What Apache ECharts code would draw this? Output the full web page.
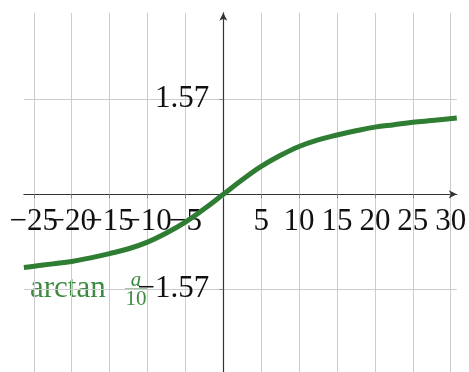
<!DOCTYPE html>
<html>
<head>
<meta charset="utf-8">
<script src="https://cdn.jsdelivr.net/npm/echarts@6/dist/echarts.min.js"></script>
<style>
  html, body { margin: 0; padding: 0; background: #fff; }
  #chart { width: 469px; height: 372px; }
</style>
</head>
<body>
<div id="chart"></div>
<script>
// ============ 数据 ============
const xTicks = [-25, -20, -15, -10, -5, 0, 5, 10, 15, 20, 25, 30]
// 标签分两组放在两条重叠的轴上, 避免相邻标签被自动隐藏
const xLabelsA = [-25, -15, -5, 5, 15, 25]
const xLabelsB = [-20, -10, 10, 20, 30]
const yTicks = [-1.57, 1.57]
const curveX = [-26.3, -25, -22.5, -20, -17.5, -15, -12.5, -10, -7.5, -5, -2.5, 0,
  2.5, 5, 7.5, 10, 12.5, 15, 17.5, 20, 22.5, 25, 27.5, 30.8]
const curveY = [-1.21, -1.19, -1.15, -1.11, -1.05, -0.98, -0.90, -0.79, -0.64, -0.46, -0.24, 0,
  0.24, 0.46, 0.64, 0.79, 0.90, 0.98, 1.05, 1.11, 1.15, 1.19, 1.22, 1.26]

// ============ 样式常量 ============
const COLORS = {
  curve: '#2e7d32',
  label: '#3d8b40',
  axis: '#333333',
  grid: '#cccccc',
  text: '#111111'
}
const FONT = '"Liberation Serif", "DejaVu Serif", serif'

// 坐标区域 (像素)
const GRID = { left: 23.9, right: 12.2, top: 12.8, bottom: -3.8 }
// 零线相对于区域边缘的偏移
const X_AXIS_OFFSET = -181.5
const Y_AXIS_OFFSET = -199.4
const X_MIN = -26.3
const X_MAX = 30.8

const xLabelStyle = {
  interval: 0,
  showMinLabel: true,
  showMaxLabel: true,
  hideOverlap: false,
  color: COLORS.text,
  fontFamily: FONT,
  fontSize: 31,
  margin: 12,
  formatter: v => (v < 0 ? '\u2212' + Math.abs(v) : String(v))
}

const chart = echarts.init(document.getElementById('chart'))

chart.setOption({
  animation: false,
  grid: Object.assign({ containLabel: false, outerBoundsMode: 'none' }, GRID),
  xAxis: [
    {
      type: 'value',
      position: 'bottom',
      offset: X_AXIS_OFFSET,
      min: X_MIN,
      max: X_MAX,
      axisLine: {
        onZero: false,
        lineStyle: { color: COLORS.axis, width: 1.2 },
        symbol: ['none', 'arrow'],
        symbolSize: [6, 8]
      },
      axisTick: { customValues: xTicks, length: 4, lineStyle: { color: '#888' } },
      axisLabel: Object.assign({ customValues: xLabelsA }, xLabelStyle),
      splitLine: { show: true, lineStyle: { color: COLORS.grid, width: 1 } }
    },
    {
      type: 'value',
      position: 'bottom',
      offset: X_AXIS_OFFSET,
      min: X_MIN,
      max: X_MAX,
      axisLine: { show: false, onZero: false },
      axisTick: { show: false },
      axisLabel: Object.assign({ customValues: xLabelsB }, xLabelStyle),
      splitLine: { show: false }
    }
  ],
  yAxis: {
    type: 'value',
    position: 'left',
    offset: Y_AXIS_OFFSET,
    min: -3,
    max: 3,
    axisLine: {
      onZero: false,
      lineStyle: { color: COLORS.axis, width: 1.2 },
      symbol: ['none', 'arrow'],
      symbolSize: [6, 8]
    },
    axisTick: { customValues: yTicks, length: 4, lineStyle: { color: '#888' } },
    axisLabel: {
      customValues: yTicks,
      interval: 0,
      showMinLabel: true,
      showMaxLabel: true,
      color: COLORS.text,
      fontFamily: FONT,
      fontSize: 31,
      margin: 14,
      formatter: v => (v < 0 ? '\u2212' + Math.abs(v).toFixed(2) : v.toFixed(2))
    },
    splitLine: { show: true, lineStyle: { color: COLORS.grid, width: 1 } }
  },
  series: [
    {
      type: 'line',
      data: curveX.map((x, i) => [x, curveY[i]]),
      smooth: 0.4,
      symbol: 'none',
      lineStyle: { color: COLORS.curve, width: 5 },
      z: 5
    }
  ],
  graphic: [
    {
      type: 'group',
      left: 30,
      top: 270,
      z: 100,
      children: [
        { type: 'rect', shape: { x: 0, y: 0, width: 120, height: 42 }, style: { fill: '#fff', opacity: 0 } },
        { type: 'text', x: 0, y: 3, style: { text: 'arctan', fill: COLORS.label, font: '31px ' + FONT } },
        { type: 'text', x: 106, y: 0, style: { text: 'a', fill: COLORS.label, font: 'italic 21px ' + FONT, align: 'center' } },
        { type: 'line', shape: { x1: 95, y1: 19, x2: 117, y2: 19 }, style: { stroke: COLORS.label, lineWidth: 1 } },
        { type: 'text', x: 106, y: 19, style: { text: '10', fill: COLORS.label, font: '21px ' + FONT, align: 'center' } }
      ]
    }
  ]
})
</script>
</body>
</html>
